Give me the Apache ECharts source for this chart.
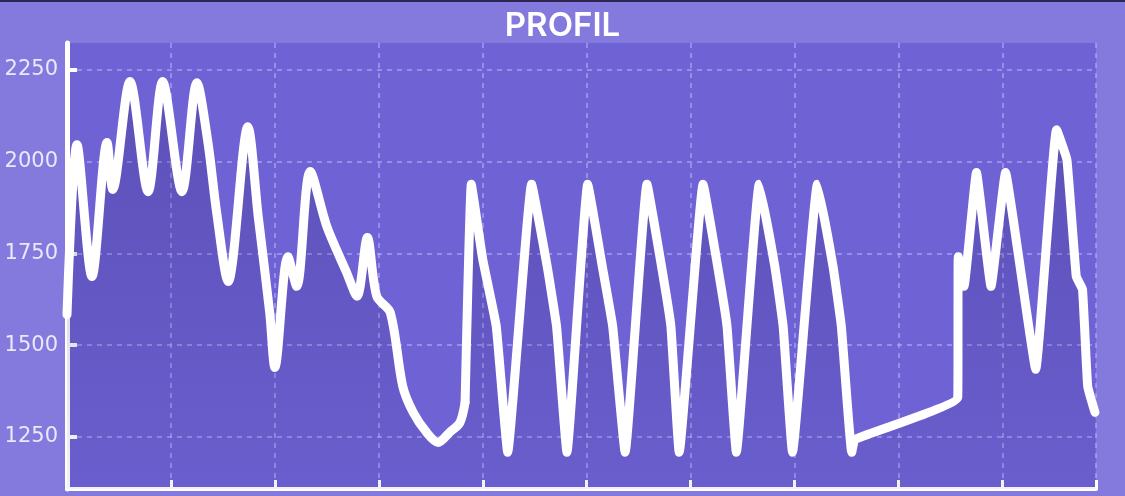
<!DOCTYPE html>
<html>
<head>
<meta charset="utf-8">
<script src="https://cdn.jsdelivr.net/npm/echarts@6/dist/echarts.min.js"></script>
<style>
html,body{margin:0;padding:0;background:#8479dc;}
#chart{width:1125px;height:496px;}
</style>
</head>
<body>
<div id="chart"></div>
<script>
const titleText = 'PROFIL';
const yTicks = [1250, 1500, 1750, 2000, 2250];
const distance = [0, 0.96, 2.4, 3.85, 4.4, 6.06, 7.8, 9.2, 11.06, 12.5, 13.56, 14.4, 15.5, 17.4, 18.4, 19.5, 20.0, 21.25, 22.1, 23.4, 25.0, 26.9, 27.9, 28.9, 29.8, 31.1, 32.3, 33.3, 34.6, 35.7, 36.8, 37.8, 38.3, 38.9, 40.0, 41.3, 42.4, 44.7, 46.2, 47.1, 48.1, 50.1, 51.5, 52.5, 53.7, 55.8, 57.2, 58.1, 58.9, 61.2, 62.6, 63.5, 64.4, 66.6, 68.1, 68.9, 69.8, 72.2, 73.7, 74.5, 75.5, 75.8, 85.7, 85.75, 86.3, 87.5, 88.9, 90.3, 91.6, 93.2, 95.2, 96.2, 97.1, 97.7, 98.2, 98.9];
const altitude = [1583, 2046, 1687, 2052, 1924, 2218, 1918, 2218, 1918, 2215, 2052, 1861, 1673, 2095, 1850, 1589, 1439, 1741, 1660, 1973, 1823, 1698, 1633, 1793, 1633, 1589, 1388, 1317, 1262, 1235, 1262, 1289, 1344, 1938, 1733, 1551, 1208, 1938, 1714, 1551, 1208, 1938, 1714, 1551, 1208, 1938, 1714, 1551, 1208, 1938, 1714, 1551, 1208, 1938, 1714, 1551, 1208, 1938, 1714, 1551, 1208, 1243, 1358, 1741, 1660, 1970, 1660, 1970, 1733, 1434, 2087, 2005, 1687, 1652, 1388, 1317];
const splitIndex = 32; // first hilly section drawn smoother than the interval section

const points = distance.map((d, i) => [d, altitude[i]]);
const partA = points.slice(0, splitIndex + 1);
const partB = points.slice(splitIndex);
const chart = echarts.init(document.getElementById('chart'));
const splitStyle = {color: 'rgba(185,175,250,0.75)', width: 1.5, type: [5, 5]};
const area = {
  origin: 'start',
  color: new echarts.graphic.LinearGradient(0, 0, 0, 1, [
    {offset: 0, color: 'rgba(40,25,100,0.35)'},
    {offset: 1, color: 'rgba(40,25,100,0.08)'}
  ])
};
const line = {color: '#ffffff', width: 9, join: 'round', cap: 'round'};
chart.setOption({
  backgroundColor: '#8479dc',
  animation: false,
  title: {
    text: titleText, left: 'center', top: 5,
    textStyle: {color: '#ffffff', fontSize: 33, fontWeight: 600, fontFamily: 'Inter'}
  },
  graphic: [{type: 'rect', shape: {x: 0, y: 0, width: 1125, height: 2}, style: {fill: '#2c2650'}}],
  grid: {left: 67, right: 29, top: 43, bottom: 7, show: true, backgroundColor: '#6e62d4', borderWidth: 0, outerBoundsMode: 'none', containLabel: false},
  xAxis: {
    type: 'value', min: 0, max: 99, interval: 10,
    axisLine: {show: true, lineStyle: {color: '#ffffff', width: 4}},
    axisTick: {show: true, inside: true, length: 9, lineStyle: {color: '#ffffff', width: 3}},
    axisLabel: {show: false},
    splitLine: {show: true, lineStyle: splitStyle}
  },
  yAxis: {
    type: 'value', min: 1108, max: 2323,
    axisLine: {show: true, lineStyle: {color: '#ffffff', width: 5}},
    axisTick: {show: true, inside: true, length: 10, customValues: yTicks, lineStyle: {color: '#ffffff', width: 4}},
    axisLabel: {show: true, customValues: yTicks, formatter: v => String(v), color: '#ebe8fb', fontSize: 21, fontFamily: 'DejaVu Sans', margin: 9},
    splitLine: {show: true, lineStyle: splitStyle}
  },
  series: [
    {type: 'line', data: partA, smooth: 0.3, symbol: 'none', lineStyle: line, areaStyle: area},
    {type: 'line', data: partB, smooth: 0.1, symbol: 'none', lineStyle: line, areaStyle: area}
  ]
});
</script>
</body>
</html>
